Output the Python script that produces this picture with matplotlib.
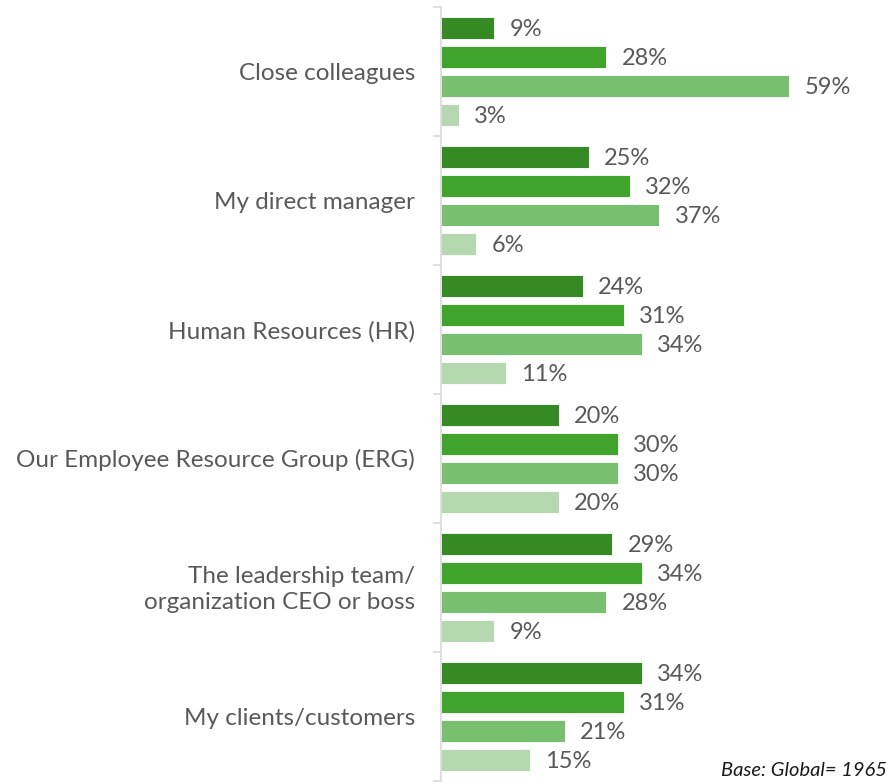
import matplotlib
matplotlib.use("Agg")
import matplotlib.pyplot as plt
import numpy as np

categories = [
    "Close colleagues",
    "My direct manager",
    "Human Resources (HR)",
    "Our Employee Resource Group (ERG)",
    "The leadership team/\norganization CEO or boss",
    "My clients/customers",
]
series_a = [9, 25, 24, 20, 29, 34]
series_b = [28, 32, 31, 30, 34, 31]
series_c = [59, 37, 34, 30, 28, 21]
series_d = [3, 6, 11, 20, 9, 15]
series = [series_a, series_b, series_c, series_d]
colors = ["#358A23", "#40A32C", "#78BF6F", "#B6D8B1"]
offsets = [-0.337, -0.112, 0.112, 0.337]
bar_h = 0.172

plt.rcParams["font.family"] = ["Lato", "DejaVu Sans"]
text_col = "#595959"

fig = plt.figure(figsize=(8.9, 7.84), dpi=100)
ax = fig.add_axes([441 / 890, 3 / 784, 449 / 890, 774 / 784])

n = len(categories)
centers = np.arange(n)
for vals, off, col in zip(series, offsets, colors):
    ys = centers + off
    ax.barh(ys, vals, height=bar_h, color=col, edgecolor="white", linewidth=0.6)
    for y, v in zip(ys, vals):
        ax.text(v + 2.6, y + 0.01, f"{v}%", va="center", ha="left",
                fontsize=17, color=text_col)

ax.set_xlim(0, 449 / 5.9)
ax.set_ylim(n - 0.5, -0.5)
ax.set_xticks([])
ax.set_yticks(np.arange(-0.5, n, 1.0))
ax.set_yticklabels([])
ax.tick_params(axis="y", length=6, color="#D9D9D9", width=1.2, direction="out")
for cy, name in zip(centers, categories):
    ax.text(-4.4, cy + 0.015, name, ha="right", va="center", fontsize=17.5,
            color=text_col, linespacing=1.28, multialignment="right")

for s in ["top", "right", "bottom"]:
    ax.spines[s].set_visible(False)
ax.spines["left"].set_color("#D9D9D9")
ax.spines["left"].set_linewidth(1.2)

fig.text(887 / 890, 1 - 776 / 784, "Base: Global= 1965", ha="right",
         va="baseline", fontsize=14.5, style="italic", color="#1a1a1a")

fig.savefig("out.png", dpi=100, facecolor="white")
